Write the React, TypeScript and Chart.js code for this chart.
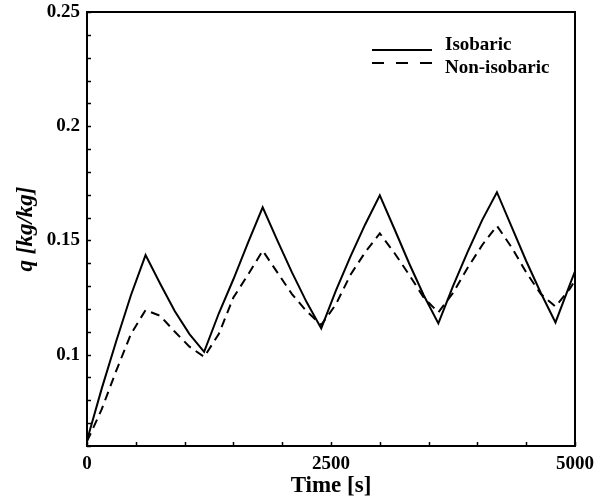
import React, { useEffect, useRef } from "react";
import { Chart, registerables } from "chart.js";

Chart.register(...registerables);

const times = [0, 150, 300, 450, 600, 750, 900, 1050, 1200, 1350, 1500, 1650, 1800, 1950, 2100, 2250, 2400, 2550, 2700, 2850, 3000, 3150, 3300, 3450, 3600, 3750, 3900, 4050, 4200, 4350, 4500, 4650, 4800, 4950, 5000];
const isobaric = [0.0625, 0.085, 0.106, 0.126, 0.1436, 0.131, 0.119, 0.109, 0.1012, 0.118, 0.133, 0.149, 0.1645, 0.150, 0.136, 0.123, 0.1115, 0.128, 0.143, 0.157, 0.1697, 0.155, 0.140, 0.126, 0.1137, 0.130, 0.145, 0.159, 0.1711, 0.156, 0.141, 0.127, 0.1141, 0.131, 0.1365];
const nonIsobaric = [0.062, 0.076, 0.093, 0.109, 0.1195, 0.117, 0.110, 0.1035, 0.099, 0.109, 0.125, 0.135, 0.1455, 0.136, 0.1265, 0.119, 0.113, 0.122, 0.135, 0.1448, 0.1531, 0.1445, 0.135, 0.125, 0.1185, 0.127, 0.138, 0.148, 0.1564, 0.147, 0.136, 0.1265, 0.121, 0.129, 0.1325];
const seriesNames = ["Isobaric", "Non-isobaric"];
const xTickLabels = [0, 2500, 5000];
const yTickLabels = [0.1, 0.15, 0.2, 0.25];

const FONT = "'Liberation Serif', 'Times New Roman', serif";

const framePlugin = {
  id: "frameTicksLegend",
  afterDatasetsDraw(chart: any) {
    const { ctx, chartArea: a, scales } = chart;
    const xs = scales.x;
    const ys = scales.y;
    ctx.save();
    ctx.strokeStyle = "#000";
    ctx.lineWidth = 1.5;
    ctx.setLineDash([]);
    for (let t = 0; t <= 5000; t += 500) {
      const px = Math.round(xs.getPixelForValue(t)) + 0.5;
      ctx.beginPath();
      ctx.moveTo(px, a.bottom);
      ctx.lineTo(px, a.bottom - 4);
      ctx.stroke();
    }
    for (let i = 6; i <= 25; i++) {
      const py = Math.round(ys.getPixelForValue(i / 100)) + 0.5;
      ctx.beginPath();
      ctx.moveTo(a.left, py);
      ctx.lineTo(a.left + 4, py);
      ctx.stroke();
    }
    ctx.lineWidth = 2;
    ctx.strokeRect(a.left, a.top, a.right - a.left, a.bottom - a.top);

    // legend
    const lx0 = 372, lx1 = 432;
    const rows = [
      { y: 45, lineY: 50, dash: [] as number[] },
      { y: 68, lineY: 63, dash: [12, 12] },
    ];
    ctx.font = `bold 19px ${FONT}`;
    ctx.fillStyle = "#000";
    ctx.textBaseline = "middle";
    ctx.textAlign = "left";
    rows.forEach((r, i) => {
      ctx.setLineDash(r.dash);
      ctx.lineWidth = 2;
      ctx.beginPath();
      ctx.moveTo(lx0, r.lineY);
      ctx.lineTo(lx1, r.lineY);
      ctx.stroke();
      ctx.fillText(seriesNames[i], 445, r.y);
    });
    ctx.restore();
  },
};

export default function App() {
  const ref = useRef<HTMLCanvasElement>(null);
  useEffect(() => {
    if (!ref.current) return;
    const chart = new Chart(ref.current, {
      type: "line",
      data: {
        datasets: [
          {
            label: seriesNames[0],
            data: times.map((t, i) => ({ x: t, y: isobaric[i] })),
            borderColor: "#000",
            borderWidth: 2,
            pointRadius: 0,
            tension: 0,
            fill: false,
          },
          {
            label: seriesNames[1],
            data: times.map((t, i) => ({ x: t, y: nonIsobaric[i] })),
            borderColor: "#000",
            borderWidth: 2,
            borderDash: [9, 6],
            pointRadius: 0,
            tension: 0,
            fill: false,
          },
        ],
      },
      options: {
        animation: false,
        responsive: false,
        maintainAspectRatio: false,
        layout: { padding: { top: 12, right: 30, left: 0, bottom: 0 } },
        plugins: { legend: { display: false }, tooltip: { enabled: false } },
        scales: {
          x: {
            type: "linear",
            min: 0,
            max: 5000,
            afterBuildTicks: (s: any) => {
              s.ticks = xTickLabels.map((v) => ({ value: v }));
            },
            grid: { display: false, drawTicks: false },
            border: { display: false },
            ticks: {
              color: "#000",
              font: { family: FONT, size: 19, weight: "bold" },
              padding: 7,
              maxRotation: 0,
              callback: (v: any) => String(v),
            },
            title: {
              display: true,
              text: "Time [s]",
              color: "#000",
              font: { family: FONT, size: 23, weight: "bold" },
              padding: { top: 0, bottom: 2 },
            },
            afterFit: (s: any) => {
              s.height = 56;
              s.paddingLeft = 0;
              s.paddingRight = 0;
            },
          },
          y: {
            type: "linear",
            min: 0.06,
            max: 0.25,
            afterBuildTicks: (s: any) => {
              s.ticks = yTickLabels.map((v) => ({ value: v }));
            },
            grid: { display: false, drawTicks: false },
            border: { display: false },
            ticks: {
              color: "#000",
              font: { family: FONT, size: 19, weight: "bold" },
              padding: 7,
              callback: (v: any) => String(Math.round(v * 100) / 100),
            },
            title: {
              display: true,
              text: "q [kg/kg]",
              color: "#000",
              font: { family: FONT, size: 23, weight: "bold", style: "italic" },
              padding: { top: 12, bottom: 0 },
            },
            afterFit: (s: any) => {
              s.width = 87;
              s.paddingTop = 0;
              s.paddingBottom = 0;
            },
          },
        },
      },
      plugins: [framePlugin],
    } as any);
    return () => chart.destroy();
  }, []);
  return (
    <div style={{ position: "fixed", left: 0, top: 0, width: 605, height: 502, background: "#fff" }}>
      <canvas ref={ref} width={605} height={502} style={{ width: 605, height: 502 }} />
    </div>
  );
}
